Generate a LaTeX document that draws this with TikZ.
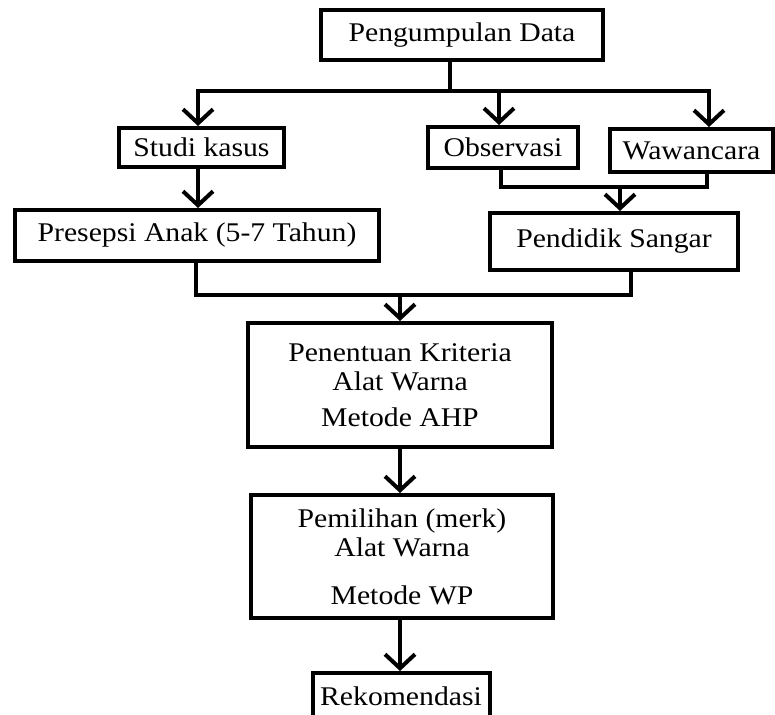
\documentclass[tikz,border=0pt]{standalone}
\usepackage{fontspec}
\setmainfont[FakeStretch=1.1]{Liberation Serif}
\usetikzlibrary{arrows.meta}
\tikzset{
  box/.style={draw, line width=4pt, inner sep=0pt, align=center, font=\fontsize{27}{29}\selectfont},
  conn/.style={line width=4pt},
  arr/.style={conn, -{Straight Barb[length=14pt,width=30pt]}}
}
\begin{document}
\begin{tikzpicture}[x=1pt,y=-1pt]
\clip (0,0) rectangle (775,714);
\fill[white] (0,0) rectangle (775,714);
% nodes
\node[box, minimum width=282pt, minimum height=50pt] (pd) at (462,35) {Pengumpulan Data};
\node[box, minimum width=165pt, minimum height=39pt] (sk) at (201.5,147.5) {Studi kasus};
\node[box, minimum width=150pt, minimum height=41pt] (ob) at (503,147.5) {Observasi};
\node[box, minimum width=163pt, minimum height=43pt] (ww) at (691.5,150.5) {Wawancara};
\node[box, minimum width=364pt, minimum height=51pt] (pa) at (197,235.5) {Presepsi Anak (5-7 Tahun)};
\node[box, minimum width=248pt, minimum height=57pt] (ps) at (614,241.5) {Pendidik Sangar};
\node[box, minimum width=304pt, minimum height=124pt] (pk) at (400,385) {Penentuan Kriteria\\Alat Warna\\[7pt]Metode AHP};
\node[box, minimum width=302pt, minimum height=123pt] (pm) at (402,556.5) {Pemilihan (merk)\\Alat Warna\\[19pt]Metode WP};
\node[box, minimum width=177pt, minimum height=47pt] (rk) at (401,696.5) {Rekomendasi};
% junction coordinates
\coordinate (a0) at (198,91);
\coordinate (a1) at (450,91);
\coordinate (a2) at (499,91);
\coordinate (a3) at (709,91);
\coordinate (b1) at (501,187);
\coordinate (b2) at (707,187);
\coordinate (b3) at (620,187);
\coordinate (c1) at (196,295);
\coordinate (c2) at (631,295);
\coordinate (c3) at (400,295);
% connectors
\draw[conn] (pd.south -| a1) -- (a1);
\draw[arr] (a1) -| (sk.north -| a0);
\draw[arr] (a1) -| (ww.north -| a3);
\draw[arr] (a2) -- (ob.north -| a2);
\draw[arr] (sk.south -| a0) -- (pa.north -| a0);
\draw[conn] (ob.south -| b1) |- (b2) -- (ww.south -| b2);
\draw[arr] (b3) -- (ps.north -| b3);
\draw[conn] (pa.south -| c1) |- (c2) -- (ps.south -| c2);
\draw[arr] (c3) -- (pk.north -| c3);
\draw[arr] (pk.south -| c3) -- (pm.north -| c3);
\draw[arr] (pm.south -| c3) -- (rk.north -| c3);
\end{tikzpicture}
\end{document}
